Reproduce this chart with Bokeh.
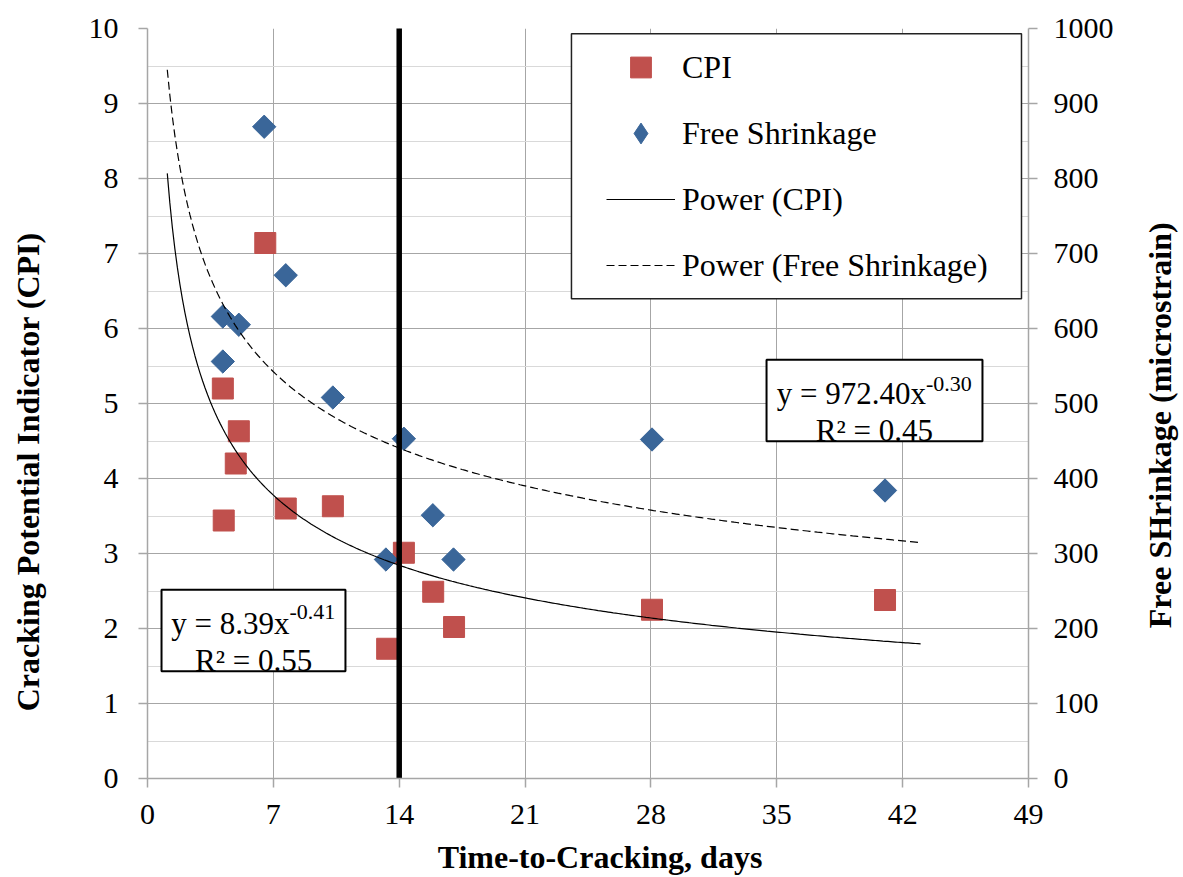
import numpy as np
from bokeh.plotting import figure
from bokeh.models import (Range1d, LinearAxis, FixedTicker, Label, BoxAnnotation,
                          Legend, LegendItem)
from bokeh.embed import file_html
from bokeh.resources import INLINE

# ---------------- data ----------------
cpi_days = [6.55, 4.19, 5.08, 4.91, 4.24, 7.69, 10.31, 14.26, 13.33, 15.89, 17.05, 28.06, 41.02]
cpi_values = [7.14, 5.20, 4.63, 4.20, 3.44, 3.60, 3.63, 3.01, 1.73, 2.49, 2.02, 2.25, 2.38]

fs_days = [6.49, 7.69, 4.19, 5.08, 4.19, 10.31, 14.26, 28.06, 41.02, 15.87, 13.26, 17.02]
fs_values = [869, 671, 616, 605, 556, 508, 453, 452, 384, 351, 292, 292]

# power trendlines  y = a * x^b  (coefficients shown on the chart)
cpi_fit_a, cpi_fit_b = 8.39, -0.41
fs_fit_a, fs_fit_b = 972.40, -0.30
fit_start, fit_end = 1.1, 43.0

# 14-day reference line
vline_x = [14, 14]
vline_y = [0, 10]

x_ticks = [0, 7, 14, 21, 28, 35, 42, 49]
y_ticks = [0, 1, 2, 3, 4, 5, 6, 7, 8, 9, 10]
y_minor = [0.5, 1.5, 2.5, 3.5, 4.5, 5.5, 6.5, 7.5, 8.5, 9.5]
fs_ticks = [0, 100, 200, 300, 400, 500, 600, 700, 800, 900, 1000]

x_title = "Time-to-Cracking, days"
y_title = "Cracking Potential Indicator (CPI)"
y2_title = "Free SHrinkage (microstrain)"

FONT = "Liberation Serif"
RED = "#C0504D"
BLUE = "#3A6699"
GRID = "#A6A6A6"
NB = "\u00a0"  # non-breaking space used to nudge the x title to the right

p = figure(width=1183, height=877, output_backend="svg", toolbar_location=None,
           x_range=Range1d(0, 49), y_range=Range1d(0, 10),
           min_border_left=147, min_border_right=155, min_border_top=28,
           min_border_bottom=99)
p.outline_line_color = None
p.background_fill_color = "white"
p.border_fill_color = "white"
p.extra_y_ranges = {"fs": Range1d(0, 1000)}

ax_b = p.below[0]
ax_l = p.left[0]
ax_b.ticker = FixedTicker(ticks=x_ticks)
ax_l.ticker = FixedTicker(ticks=y_ticks, minor_ticks=y_minor)
ax_r = LinearAxis(y_range_name="fs", ticker=FixedTicker(ticks=fs_ticks))
p.add_layout(ax_r, "right")

for ax in (ax_b, ax_l, ax_r):
    ax.axis_line_color = GRID
    ax.axis_line_width = 1.5
    ax.major_tick_line_color = GRID
    ax.major_tick_line_width = 1.5
    ax.major_tick_out = 9
    ax.major_tick_in = 0
    ax.minor_tick_line_color = None
    ax.major_label_text_font = FONT
    ax.major_label_text_font_size = "30px"
    ax.major_label_text_color = "black"
    ax.major_label_standoff = 16
ax_b.major_label_standoff = 17
ax_l.major_label_standoff = 20

# x title: carried by an empty axis below the tick-label axis
ax_t = LinearAxis(ticker=FixedTicker(ticks=[]), axis_label=NB * 3 + x_title,
                  axis_line_color=None, major_tick_line_color=None,
                  minor_tick_line_color=None, major_tick_out=0, major_tick_in=0,
                  minor_tick_out=0, minor_tick_in=0,
                  axis_label_text_font=FONT, axis_label_text_font_size="32px",
                  axis_label_text_font_style="bold", axis_label_text_color="black",
                  axis_label_standoff=12)
p.add_layout(ax_t, "below")


def side_title(side, x, y, text):
    p.add_layout(Label(x=x, y=y, text=text, text_font=FONT,
                       text_font_size="32px", text_font_style="bold",
                       text_color="black", text_align="center",
                       text_baseline="middle", angle=np.pi / 2), side)


side_title("left", -6.65, 4.09, y_title)
side_title("right", 56.34, 4.71, y2_title)

p.xgrid.ticker = FixedTicker(ticks=x_ticks)
p.xgrid.grid_line_color = GRID
p.ygrid.ticker = FixedTicker(ticks=y_ticks, minor_ticks=y_minor)
p.ygrid.grid_line_color = GRID
p.ygrid.minor_grid_line_color = "#D9D9D9"

# ---------------- glyphs ----------------
r_cpi = p.scatter(cpi_days, cpi_values, marker="square", size=21,
                  fill_color=RED, line_color=RED)
r_fs = p.scatter(fs_days, fs_values, y_range_name="fs", marker="square",
                 angle=np.pi / 4, size=16.5, fill_color=BLUE, line_color=BLUE)
# same series drawn as a "diamond" marker for the legend swatch only
r_fs_key = p.scatter(fs_days, fs_values, y_range_name="fs", marker="diamond",
                     size=23, fill_color=BLUE, line_color=BLUE, visible=False)

fit_x = np.linspace(fit_start, fit_end, 300)
r_cpi_fit = p.line(fit_x, cpi_fit_a * fit_x ** cpi_fit_b, line_color="black",
                   line_width=1.2)
r_fs_fit = p.line(fit_x, fs_fit_a * fit_x ** fs_fit_b, y_range_name="fs",
                  line_color="black", line_width=1.2, line_dash="8 4")

p.line(vline_x, vline_y, line_color="black", line_width=5.5, line_cap="round")

# ---------------- legend ----------------
p.add_layout(BoxAnnotation(left=23.58, right=48.61, top=9.929, bottom=6.396,
                           fill_color="white", fill_alpha=1.0,
                           line_color="#222222", line_alpha=1.0, line_width=1.5))
legend = Legend(items=[LegendItem(label="CPI", renderers=[r_cpi]),
                       LegendItem(label="Free Shrinkage", renderers=[r_fs_key]),
                       LegendItem(label="Power (CPI)", renderers=[r_cpi_fit]),
                       LegendItem(label="Power (Free Shrinkage)", renderers=[r_fs_fit])],
                location=(459, 487), padding=0, margin=0, spacing=14,
                glyph_width=69, glyph_height=52, label_height=52,
                label_standoff=7, label_text_font=FONT,
                label_text_font_size="32px", label_text_color="black",
                border_line_color=None, background_fill_alpha=0)
p.add_layout(legend)

# ---------------- equation boxes ----------------
p.add_layout(BoxAnnotation(left=34.43, right=46.44, top=5.583, bottom=4.497,
                           fill_color="white", fill_alpha=1.0,
                           line_color="black", line_alpha=1.0, line_width=2))
p.add_layout(BoxAnnotation(left=0.78, right=11.01, top=2.516, bottom=1.431,
                           fill_color="white", fill_alpha=1.0,
                           line_color="black", line_alpha=1.0, line_width=2))


def lab(x, y, text, size, align, baseline="alphabetic"):
    p.add_layout(Label(x=x, y=y, text=text, text_font=FONT,
                       text_font_size=size, text_align=align,
                       text_baseline=baseline, text_color="black"))


lab(43.30, 5.129, "y = 972.40x", "31px", "right")
lab(43.30, 5.263, "-0.30", "22px", "left")
lab(40.43, 4.640, "R² = 0.45", "31px", "center")

lab(7.90, 2.063, "y = 8.39x", "31px", "right")
lab(7.90, 2.217, "-0.41", "22px", "left")
lab(5.90, 1.573, "R² = 0.55", "31px", "center")

open("out.html", "w").write(file_html(p, INLINE))
